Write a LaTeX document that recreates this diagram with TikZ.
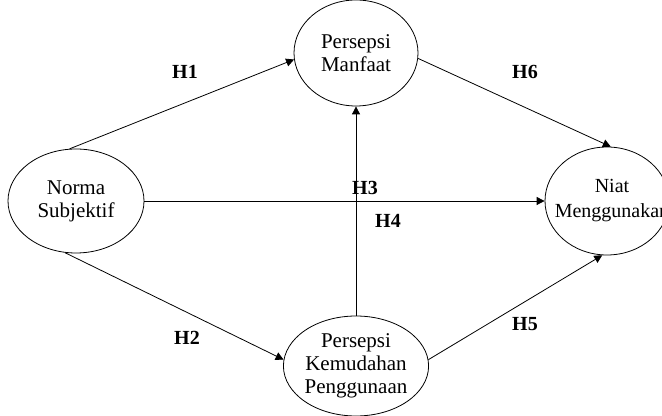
\documentclass[tikz,border=0pt]{standalone}
\usepackage{fontspec}
\setmainfont{Liberation Serif}
\usetikzlibrary{shapes.geometric,arrows.meta}

\begin{document}
\begin{tikzpicture}[x=0.5pt,y=0.5pt,
    latent/.style={draw, ellipse, inner sep=0pt, align=center, font=\fontsize{10.5}{11.5}\selectfont},
    hyp/.style={font=\bfseries},
    path/.style={-{Triangle[length=4pt,width=4pt]}, thin}]
  %fix the page to the size of the reference
  \useasboundingbox (0,0) rectangle (662,416);
  %the constructs (ellipses)
  \node[latent, minimum width=68pt, minimum height=52pt] (norma) at (76,215) {Norma\\Subjektif}; %exogenous
  \node[latent, minimum width=62pt, minimum height=53pt] (manfaat) at (356,363) {Persepsi\\Manfaat};
  \node[latent, minimum width=63pt, minimum height=50pt] (mudah) at (356,50) {Persepsi\\Kemudahan\\Penggunaan};
  \node[latent, minimum width=62pt, minimum height=54pt] (niat) at (607,215) {}; %endogenous, cut at the page edge
  \node[align=center, font=\fontsize{10}{12.5}\selectfont] (niattext) at (612,215) {Niat\\Menggunakan};
  %the paths between the constructs
  \draw[path] (norma.97) -- (manfaat.186);
  \draw[path] (norma.258) -- (mudah.175);
  \draw[path] (norma.east) -- (niat.west);
  \draw[path] (mudah.north) -- (manfaat.south);
  \draw[path] (manfaat.355) -- (niat.86);
  \draw[path] (mudah.5) -- (niat.265);
  %hypothesis labels
  \node[hyp] (h1) at (185,344) {H1};
  \node[hyp] (h2) at (187,78) {H2};
  \node[hyp] (h3) at (365,228) {H3};
  \node[hyp] (h4) at (388,195) {H4};
  \node[hyp] (h5) at (525,92) {H5};
  \node[hyp] (h6) at (525,344) {H6};
\end{tikzpicture}
\end{document}
